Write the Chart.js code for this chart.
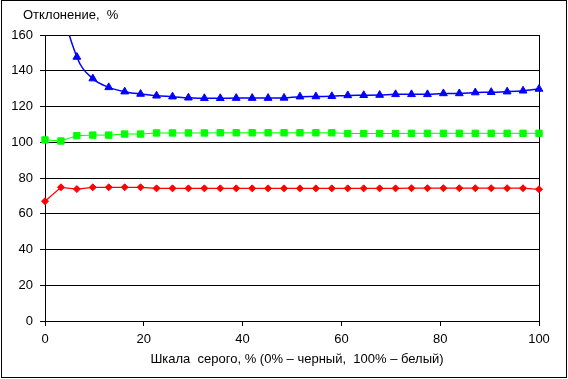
<!DOCTYPE html>
<html>
<head>
<meta charset="utf-8">
<script src="https://cdn.jsdelivr.net/npm/chart.js@4/dist/chart.umd.min.js"></script>
<style>
html,body{margin:0;padding:0;background:#fff;}
#wrap{width:568px;height:379px;position:relative;}
</style>
</head>
<body>
<div id="wrap"><canvas id="c" width="568" height="379"></canvas></div>
<script>
// X positions: 32 gray levels, 0..100 %
const grayLevels = [0,3.23,6.45,9.68,12.9,16.13,19.35,22.58,25.81,29.03,32.26,35.48,38.71,41.94,45.16,48.39,51.61,54.84,58.06,61.29,64.52,67.74,70.97,74.19,77.42,80.65,83.87,87.1,90.32,93.55,96.77,100];
const blueSeries = [260,182,147.7,135.6,130.7,128.3,127,126,125.5,124.9,124.6,124.6,124.7,124.7,124.7,124.8,125.5,125.6,125.7,126.2,126.3,126.4,126.8,126.8,126.8,127.3,127.3,127.8,128,128.3,128.8,129.8];
const greenSeries = [101.3,100.7,103.7,104,104,104.6,104.6,105.2,105.2,105.2,105.2,105.3,105.3,105.3,105.3,105.3,105.3,105.3,105.3,104.9,104.9,104.9,104.9,105,105,105,105,105,105,105,105,105];
const redSeries = [67,74.8,73.8,74.8,74.8,74.8,74.8,74.2,74.2,74.2,74.2,74.2,74.2,74.2,74.2,74.2,74.2,74.2,74.2,74.2,74.2,74.2,74.2,74.3,74.3,74.3,74.3,74.3,74.3,74.3,74.3,73.7];
const xTicks = [0,20,40,60,80,100];
const yTicks = [0,20,40,60,80,100,120,140,160];
const yTitle = 'Отклонение,  %';
const xTitle = 'Шкала  серого, % (0% – черный,  100% – белый)';

const FONT = "'Liberation Sans', Arial, sans-serif";
const pts = arr => arr.map((v,i)=>({x:grayLevels[i], y:v}));

const decor = {
  id:'decor',
  afterDraw(chart){
    const ctx = chart.ctx;
    ctx.save();
    ctx.strokeStyle = '#000';
    ctx.lineWidth = 1;
    ctx.strokeRect(1.5, 0.5, 565, 377);
    ctx.fillStyle = '#000';
    ctx.font = '13px ' + FONT;
    ctx.textBaseline = 'middle';
    ctx.textAlign = 'left';
    ctx.fillText(yTitle, 23, 15);
    ctx.textAlign = 'center';
    ctx.fillText(xTitle, 297, 359);
    ctx.restore();
  }
};

new Chart(document.getElementById('c'), {
  type:'scatter',
  data:{
    datasets:[
      {data:pts(blueSeries), showLine:true, borderColor:'#0000FF', backgroundColor:'#0000FF',
       borderWidth:1.5, pointStyle:'triangle', pointRadius:4.5, pointBorderWidth:1,
       cubicInterpolationMode:'monotone', clip:{left:10,right:10,top:0,bottom:10}},
      {data:pts(greenSeries), showLine:true, borderColor:'#00FF00', backgroundColor:'#00FF00',
       borderWidth:1, pointStyle:'rect', pointRadius:4.5, pointBorderWidth:1, clip:false},
      {data:pts(redSeries), showLine:true, borderColor:'#FF0000', backgroundColor:'#FF0000',
       borderWidth:1.25, pointStyle:'rectRot', pointRadius:3.5, pointBorderWidth:1, clip:false}
    ]
  },
  options:{
    responsive:false, animation:false, devicePixelRatio:1,
    layout:{padding:{left:0,right:29,top:35,bottom:0}},
    plugins:{legend:{display:false}, tooltip:{enabled:false}},
    scales:{
      x:{type:'linear', min:0, max:100,
        afterBuildTicks(s){ s.ticks = xTicks.map(v=>({value:v})); },
        afterFit(s){ s.height = 58; },
        grid:{drawOnChartArea:true, color:c=> (c.tick && c.tick.value===100) ? '#000' : 'rgba(0,0,0,0)',
              tickColor:'#000', tickLength:5, lineWidth:1},
        border:{display:true, color:'#000', width:1},
        ticks:{color:'#000', font:{family:FONT, size:13}, padding:6, maxRotation:0}
      },
      y:{type:'linear', min:0, max:160,
        afterBuildTicks(s){ s.ticks = yTicks.map(v=>({value:v})); },
        afterFit(s){ s.width = 45; },
        grid:{color:'#000', tickColor:'#000', tickLength:5, lineWidth:1},
        border:{display:true, color:'#000', width:1},
        ticks:{color:'#000', font:{family:FONT, size:13}, padding:7}
      }
    }
  },
  plugins:[decor]
});
</script>
</body>
</html>
